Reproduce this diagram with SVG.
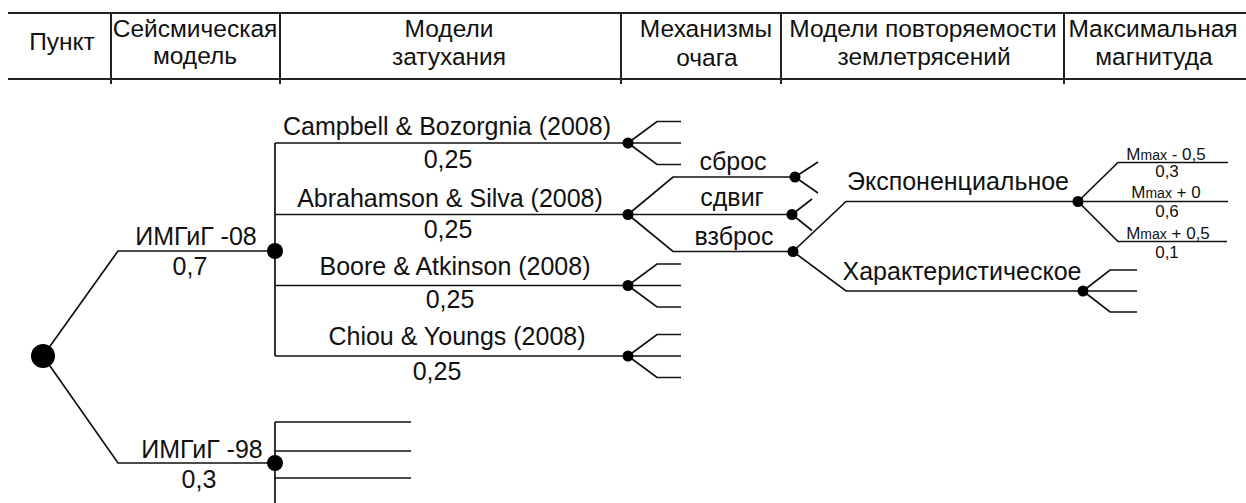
<svg xmlns="http://www.w3.org/2000/svg" width="1246" height="503" viewBox="0 0 1246 503">
<style>
.hl{stroke:#222;stroke-width:2;fill:none}
.ln{stroke:#111;stroke-width:1.7;fill:none;stroke-linejoin:miter}
.dot{fill:#000}
text{font-family:"Liberation Sans",Arial,sans-serif;fill:#111}
.h{font-size:24.5px;text-anchor:middle}
.t{font-size:25px;text-anchor:middle}
.m{font-size:17px;text-anchor:middle}
.s{font-size:14px}
</style>
<rect width="1246" height="503" fill="#fff"/>
<g id="header">
<path class="hl" d="M8 13H1246M8 79H1246M111 13V84M280 13V84M621 13V84M781 13V84M1064 13V84"/>
<text class="h" x="62" y="50">Пункт</text>
<text class="h" x="195" y="37">Сейсмическая</text>
<text class="h" x="195" y="64">модель</text>
<text class="h" x="449" y="37">Модели</text>
<text class="h" x="449" y="65">затухания</text>
<text class="h" x="706" y="37">Механизмы</text>
<text class="h" x="707" y="66">очага</text>
<text class="h" x="923" y="37">Модели повторяемости</text>
<text class="h" x="924" y="65">землетрясений</text>
<text class="h" x="1153" y="37">Максимальная</text>
<text class="h" x="1154" y="65">магнитуда</text>
</g>
<g id="connectors">
<path class="ln" d="M43 356L118 251H275M43 356L118 463H275"/>
<path class="ln" d="M275 143V356M275 143H628M275 214.5H628M275 285.5H628M275 356H628"/>
<path class="ln" d="M628 143L657 121.5H681M628 143H681M628 143L657 164.5H681"/>
<path class="ln" d="M628 285.5L657 264H681M628 285.5H681M628 285.5L657 307H681"/>
<path class="ln" d="M628 356L657 334.5H681M628 356H681M628 356L657 377.5H681"/>
<path class="ln" d="M628 214.5L673 177H795M628 214.5H792M628 214.5L673 251.5H793"/>
<path class="ln" d="M795 177L818 162M795 177L818 193"/>
<path class="ln" d="M792 214.5L812 199M792 214.5L812 230.5"/>
<path class="ln" d="M793 251.5L846 201.5H1078M793 251.5L846 291H1083"/>
<path class="ln" d="M1078 201.5L1118 162.5H1228M1078 201.5H1228M1078 201.5L1118 241.5H1227"/>
<path class="ln" d="M1083 291L1110 270H1137M1083 291H1137M1083 291L1110 312H1137"/>
<path class="ln" d="M275 422V503M275 422H411M275 451H411M275 478H411"/>
</g>
<g id="root"><circle class="dot" cx="43" cy="356" r="12"/></g>
<g id="n-imgig08">
<circle class="dot" cx="275" cy="251" r="8"/>
<text class="t" x="196" y="245">ИМГиГ -08</text>
<text class="t" x="190" y="275">0,7</text>
</g>
<g id="n-imgig98">
<circle class="dot" cx="275" cy="463" r="8"/>
<text class="t" x="202" y="458">ИМГиГ -98</text>
<text class="t" x="199" y="488">0,3</text>
</g>
<g id="n-campbell">
<circle class="dot" cx="628" cy="143" r="5.5"/>
<text class="t" x="447" y="135">Campbell &amp; Bozorgnia (2008)</text>
<text class="t" x="448" y="168">0,25</text>
</g>
<g id="n-abrahamson">
<circle class="dot" cx="628" cy="214.5" r="5.5"/>
<text class="t" x="450" y="207">Abrahamson &amp; Silva (2008)</text>
<text class="t" x="448" y="238">0,25</text>
</g>
<g id="n-boore">
<circle class="dot" cx="628" cy="285.5" r="5.5"/>
<text class="t" x="455" y="275">Boore &amp; Atkinson (2008)</text>
<text class="t" x="450" y="308">0,25</text>
</g>
<g id="n-chiou">
<circle class="dot" cx="628" cy="356" r="5.5"/>
<text class="t" x="457" y="345">Chiou &amp; Youngs (2008)</text>
<text class="t" x="437" y="380">0,25</text>
</g>
<g id="n-sbros">
<circle class="dot" cx="795" cy="177" r="5.5"/>
<text class="t" x="733" y="170">сброс</text>
</g>
<g id="n-sdvig">
<circle class="dot" cx="792" cy="214.5" r="5.5"/>
<text class="t" x="732" y="206">сдвиг</text>
</g>
<g id="n-vzbros">
<circle class="dot" cx="793" cy="251.5" r="5.5"/>
<text class="t" x="734" y="245">взброс</text>
</g>
<g id="n-exp">
<circle class="dot" cx="1078" cy="201.5" r="5.5"/>
<text class="t" x="958" y="190">Экспоненциальное</text>
</g>
<g id="n-char">
<circle class="dot" cx="1083" cy="291" r="5.5"/>
<text class="t" x="962" y="279.5">Характеристическое</text>
</g>
<g id="n-mmax">
<text class="m" x="1166" y="160">M<tspan class="s">max</tspan> - 0,5</text>
<text class="m" x="1167" y="177">0,3</text>
<text class="m" x="1166" y="197.5">M<tspan class="s">max</tspan> + 0</text>
<text class="m" x="1167" y="216.5">0,6</text>
<text class="m" x="1168" y="239">M<tspan class="s">max</tspan> + 0,5</text>
<text class="m" x="1167" y="258">0,1</text>
</g>
</svg>
